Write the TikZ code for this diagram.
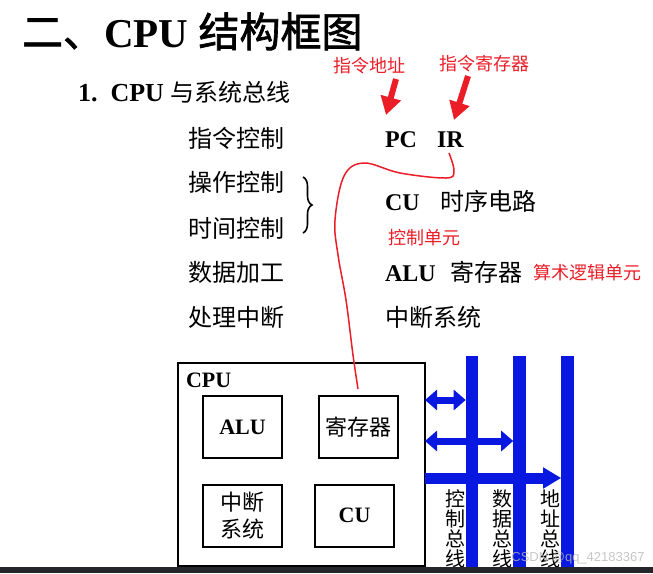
\documentclass[tikz,border=0pt]{standalone}
\usepackage{fontspec}
\setmainfont{Liberation Serif}
\newfontfamily\cjk{Noto Sans CJK SC}
\newfontfamily\cjktitle[FakeBold=1.6]{Noto Sans CJK SC}
\newfontfamily\wmfont{Liberation Sans}
\usetikzlibrary{arrows.meta,decorations.pathreplacing,calc}
\definecolor{busblue}{RGB}{8,24,224}
\definecolor{annred}{RGB}{235,30,40}
\definecolor{stripc}{RGB}{37,38,43}
\begin{document}
\begin{tikzpicture}[x=1pt,y=-1pt,
  every node/.style={inner sep=0pt, outer sep=0pt},
  lat/.style={font=\fontsize{24}{26}\selectfont\bfseries, anchor=base west},
  cj/.style={font=\fontsize{24}{26}\selectfont\cjk, anchor=base west},
  ann/.style={text=annred, font=\fontsize{18}{20}\selectfont\cjk, anchor=base west},
  annarrow/.style={draw=annred, line width=6pt, -{Triangle[length=18pt,width=20pt]}},
  unitbox/.style={draw, line width=2pt, minimum width=79pt, minimum height=62pt, align=center},
  busbar/.style={fill=busblue, minimum width=12.6pt, minimum height=217pt, anchor=north},
  dblarrow/.style={draw=busblue, line width=7pt, {Triangle[length=12pt,width=20pt]}-{Triangle[length=12pt,width=20pt]}},
  onearrow/.style={draw=busblue, line width=11pt, -{Triangle[length=18pt,width=20pt]}},
  buslabel/.style={font=\fontsize{20}{20}\selectfont\cjk, align=center, anchor=north},
]
\useasboundingbox[fill=white] (0,0) rectangle (653,573);

% titles
\node[anchor=base west] (title) at (22,47) {\fontsize{41}{44}\selectfont{\cjktitle 二、}{\bfseries CPU} {\cjktitle 结构框图}};
\node[anchor=base west] (sub) at (78,101) {\fontsize{26}{28}\selectfont{\bfseries 1.\ \ CPU} {\cjk\fontsize{24}{28}\selectfont 与系统总线}};

% left column
\node[cj] (f1) at (188,147) {指令控制};
\node[cj] (f2) at (188,191) {操作控制};
\node[cj] (f3) at (188,237) {时间控制};
\node[cj] (f4) at (188,281) {数据加工};
\node[cj] (f5) at (188,326) {处理中断};
\draw[decorate, decoration={brace, amplitude=9pt}, line width=1.6pt] (303,177) -- (303,233);

% right column
\node[lat] (pc) at (385,147) {PC};
\node[lat] (ir) at (437,147) {IR};
\node[lat] (cu) at (385,210) {CU};
\node[cj] (seq) at (440,210) {时序电路};
\node[lat] (alu) at (385,281) {ALU};
\node[cj] (regs) at (450,281) {寄存器};
\node[cj] (intr) at (385,326) {中断系统};

% red annotations
\node[ann] (a1) at (333,72) {指令地址};
\node[ann] (a2) at (439,70) {指令寄存器};
\node[ann] (a3) at (388,244) {控制单元};
\node[ann] (a4) at (533,279) {算术逻辑单元};
\coordinate (a1s) at (396,79);
\coordinate (a1e) at (386,115);
\coordinate (a2s) at (468,76);
\coordinate (a2e) at (454,120);
\draw[annarrow] (a1s) -- (a1e);
\draw[annarrow] (a2s) -- (a2e);

% CPU box
\node[draw, line width=2.2pt, minimum width=247pt, minimum height=203pt] (cpu) at (301.5,464.5) {};
\node[anchor=base west, font=\fontsize{22}{24}\selectfont\bfseries] (cpul) at (186,387) {CPU};
\node[unitbox, font=\fontsize{22}{26}\selectfont\bfseries] (ualu) at (242.5,427) {ALU};
\node[unitbox, font=\fontsize{22}{26}\selectfont\cjk] (ureg) at (358,427) {寄存器};
\node[unitbox, font=\fontsize{22}{27}\selectfont\cjk] (uint) at (242.5,515.5) {中断\\系统};
\node[unitbox, font=\fontsize{22}{26}\selectfont\bfseries] (ucu) at (354.5,515.5) {CU};

% red curve IR -> register
\coordinate (rs) at (449,153);
\coordinate (re) at (358,389);
\draw[annred, line width=1.5pt] plot[smooth, tension=0.6] coordinates {(rs) (454,171) (446,178) (400,173) (364,163) (344,176) (335,220) (338,255) (346,300) (353,355) (re)};

% buses
\node[busbar] (bus1) at (472,356) {};
\node[busbar] (bus2) at (519.5,356) {};
\node[busbar] (bus3) at (567.5,356) {};
\coordinate (y1) at (0,400);
\coordinate (y2) at (0,441);
\coordinate (y3) at (0,478);
\draw[dblarrow] (cpu.east |- y1) -- (bus1.west |- y1);
\draw[dblarrow] (cpu.east |- y2) -- (bus2.west |- y2);
\draw[onearrow] (cpu.east |- y3) -- (bus3.west |- y3);

\node[buslabel] (l1) at (455,490) {控\\制\\总\\线};
\node[buslabel] (l2) at (502.5,490) {数\\据\\总\\线};
\node[buslabel] (l3) at (550,490) {地\\址\\总\\线};

% watermark and bottom strip
\node[text=gray!55, opacity=0.8, font=\fontsize{13}{14}\selectfont\wmfont] (wm) at (578,558) {CSDN @qq\_42183367};
\fill[stripc] (0,567) rectangle (653,573);
\end{tikzpicture}
\end{document}
